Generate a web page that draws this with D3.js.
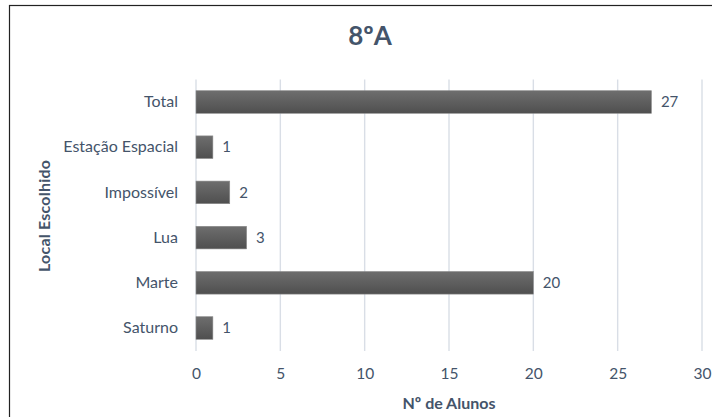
<!DOCTYPE html>
<html><head><meta charset="utf-8">
<script src="https://cdn.jsdelivr.net/npm/d3@7"></script>
<style>body{margin:0;background:#fff}svg{display:block}</style>
</head><body>
<script>
const categories = ["Total","Estação Espacial","Impossível","Lua","Marte","Saturno"];
const values = [27,1,2,3,20,1];
const xTicks = [0,5,10,15,20,25,30];
const title = "8ºA";
const xTitle = "Nº de Alunos";
const yTitle = "Local Escolhido";

const W = 712, H = 417;
const font = "Lato, 'Open Sans', sans-serif";
const textCol = "#44546a";
const svg = d3.select("body").append("svg").attr("width", W).attr("height", H);

svg.append("rect").attr("x", 9.5).attr("y", 5.5).attr("width", 760).attr("height", 460)
  .attr("fill", "#fff").attr("stroke", "#222").attr("stroke-width", 1.2);

const defs = svg.append("defs");
const g = defs.append("linearGradient").attr("id","barg").attr("x1",0).attr("y1",0).attr("x2",0).attr("y2",1);
g.append("stop").attr("offset","0%").attr("stop-color","#6e6e6e");
g.append("stop").attr("offset","100%").attr("stop-color","#4f4f4f");

const x = d3.scaleLinear().domain([0,30]).range([196, 702]);
const y = d3.scaleBand().domain(categories).range([79.4, 350.6]).paddingInner(0.5).paddingOuter(0.25);

// gridlines
svg.append("g").selectAll("line").data(xTicks).join("line")
  .attr("x1", d => x(d)).attr("x2", d => x(d))
  .attr("y1", 79.4).attr("y2", 351)
  .attr("stroke", "#d9dee6").attr("stroke-width", 1.4);

// x axis
const xa = svg.append("g").attr("transform", "translate(0,351)")
  .call(d3.axisBottom(x).tickValues(xTicks).tickSize(0).tickPadding(17));
xa.select(".domain").remove();
xa.selectAll("text").attr("font-family", font).attr("font-size", 15.5).attr("fill", textCol);

// y axis
const ya = svg.append("g").attr("transform", "translate(196,0)")
  .call(d3.axisLeft(y).tickSize(0).tickPadding(18));
ya.select(".domain").remove();
ya.selectAll("text").attr("font-family", font).attr("font-size", 16).attr("fill", textCol);

// bars
svg.append("g").selectAll("rect").data(categories).join("rect")
  .attr("x", x(0)).attr("y", d => y(d))
  .attr("width", (d,i) => x(values[i]) - x(0))
  .attr("height", y.bandwidth())
  .attr("fill", "url(#barg)").attr("stroke", "#8a8a8a").attr("stroke-width", 0.6);

// value labels
svg.append("g").selectAll("text").data(categories).join("text")
  .attr("x", (d,i) => x(values[i]) + 9.5)
  .attr("y", d => y(d) + y.bandwidth()/2)
  .attr("dy", "0.35em")
  .attr("font-family", font).attr("font-size", 15).attr("fill", textCol)
  .text((d,i) => values[i]);

// titles
svg.append("text").attr("x", 370).attr("y", 36).attr("dy","0.35em").attr("text-anchor","middle")
  .attr("font-family", font).attr("font-size", 26).attr("font-weight", "bold").attr("fill", textCol)
  .text(title);
svg.append("text").attr("x", 449).attr("y", 403).attr("dy","0.35em").attr("text-anchor","middle")
  .attr("font-family", font).attr("font-size", 16).attr("font-weight", "bold").attr("fill", textCol)
  .text(xTitle);
svg.append("text").attr("transform", "translate(44,216) rotate(-90)").attr("dy","0.35em").attr("text-anchor","middle")
  .attr("font-family", font).attr("font-size", 16).attr("font-weight", "bold").attr("fill", textCol)
  .attr("textLength", 112).attr("lengthAdjust", "spacing")
  .text(yTitle);
</script>
</body></html>
